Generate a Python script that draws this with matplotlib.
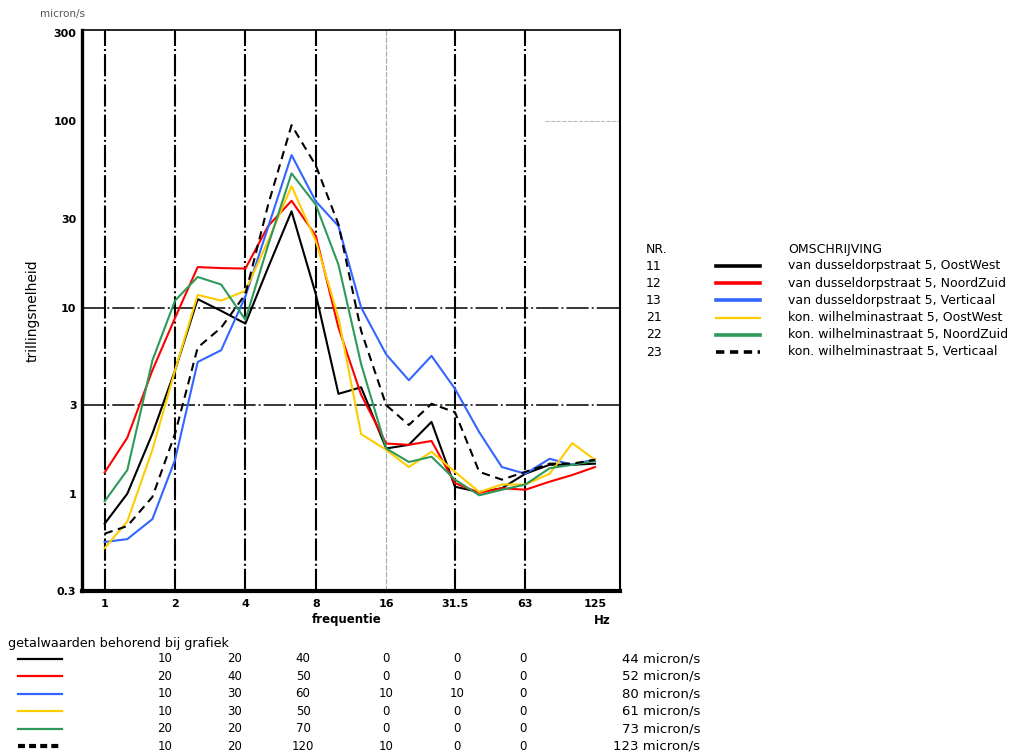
import matplotlib
matplotlib.use("Agg")
import matplotlib.pyplot as plt
from matplotlib.lines import Line2D

plt.rcParams['font.family'] = ['DejaVu Sans']
plt.rcParams['lines.scale_dashes'] = False

# 1/3 octave band centres (Hz)
freq = [1, 1.25, 1.6, 2, 2.5, 3.15, 4, 5, 6.3, 8, 10, 12.5, 16, 20, 25,
        31.5, 40, 50, 63, 80, 100, 125]

# trillingsnelheid in micron/s
v11 = [0.69, 1.0, 2.1, 4.6, 11.1, 9.6, 8.2, 16.4, 32.9, 11.8, 3.44, 3.73,
       1.75, 1.83, 2.43, 1.09, 1.02, 1.07, 1.28, 1.43, 1.43, 1.45]
v12 = [1.30, 2.0, 4.6, 8.8, 16.5, 16.3, 16.2, 27.4, 37.5, 24.3, 7.8, 3.4,
       1.86, 1.83, 1.92, 1.14, 1.01, 1.07, 1.05, 1.16, 1.26, 1.39]
v13 = [0.55, 0.57, 0.73, 1.52, 5.1, 5.9, 11.5, 27.0, 66.0, 37.2, 27.4, 10.0,
       5.6, 4.07, 5.5, 3.66, 2.14, 1.39, 1.28, 1.54, 1.43, 1.53]
v21 = [0.51, 0.71, 1.72, 4.6, 11.7, 10.9, 12.3, 22.8, 44.9, 22.8, 8.8, 2.09,
       1.72, 1.39, 1.68, 1.31, 1.02, 1.12, 1.12, 1.28, 1.87, 1.52]
v22 = [0.91, 1.34, 5.2, 10.9, 14.6, 13.3, 8.6, 21.6, 52.6, 35.7, 17.0, 4.97,
       1.75, 1.48, 1.58, 1.19, 0.98, 1.05, 1.12, 1.37, 1.43, 1.50]
v23 = [0.61, 0.67, 0.96, 2.1, 6.1, 7.8, 11.8, 35.6, 95.5, 58.0, 28.0, 7.5,
       2.99, 2.34, 3.04, 2.74, 1.31, 1.19, 1.31, 1.45, 1.45, 1.52]

nrs = ['11', '12', '13', '21', '22', '23']
names = ['van dusseldorpstraat 5, OostWest',
         'van dusseldorpstraat 5, NoordZuid',
         'van dusseldorpstraat 5, Verticaal',
         'kon. wilhelminastraat 5, OostWest',
         'kon. wilhelminastraat 5, NoordZuid',
         'kon. wilhelminastraat 5, Verticaal']
colors = ['black', '#ff0000', '#3366ff', '#ffcc00', '#2e9a5a', 'black']
styles = ['-', '-', '-', '-', '-', (0, (6, 4))]

xticks = [1, 2, 4, 8, 16, 31.5, 63, 125]
xticklabels = ['1', '2', '4', '8', '16', '31.5', '63', '125']
yticks = [0.3, 1, 3, 10, 30, 100, 300]
yticklabels = ['0.3', '1', '3', '10', '30', '100', '300']

# getalwaarden behorend bij grafiek
table = [['10', '20', '40', '0', '0', '0', '44 micron/s'],
         ['20', '40', '50', '0', '0', '0', '52 micron/s'],
         ['10', '30', '60', '10', '10', '0', '80 micron/s'],
         ['10', '30', '50', '0', '0', '0', '61 micron/s'],
         ['20', '20', '70', '0', '0', '0', '73 micron/s'],
         ['10', '20', '120', '10', '0', '0', '123 micron/s']]

W, H = 1022, 753
fig = plt.figure(figsize=(W / 100, H / 100), dpi=100)


def fx(px):
    return px / W


def fy(py):
    return 1 - py / H


ax = fig.add_axes([fx(82), fy(591), fx(620) - fx(82), fy(30) - fy(591)])
ax.set_xscale('log')
ax.set_yscale('log')
ax.set_xlim(0.8, 160)
ax.set_ylim(0.3, 310)

dashdot = (0, (16, 2.2, 1.4, 2.2))
for x in [1, 2, 4, 8, 31.5, 63]:
    ax.axvline(x, color='black', lw=1.5, ls=dashdot, zorder=1)
ax.axvline(16, color='#aaaaaa', lw=0.8, ls=(0, (4, 1)), zorder=1)
for y in [3, 10]:
    ax.axhline(y, color='black', lw=1.1, ls=dashdot, zorder=1)
ax.axhline(100, xmin=0.86, xmax=1.0, color='#bbbbbb', lw=0.8, ls=(0, (3, 1)))

series = [v11, v12, v13, v21, v22, v23]
for vals, c, s in zip(series, colors, styles):
    ax.plot(freq, vals, color=c, ls=s, lw=1.5, zorder=3)

ax.set_xticks(xticks)
ax.set_xticklabels(xticklabels, fontsize=8, fontweight='bold')
ax.set_yticks(yticks)
ax.set_yticklabels(yticklabels, fontsize=8, fontweight='bold')
ax.minorticks_off()
ax.tick_params(length=0, pad=6)
ax.tick_params(axis='y', pad=4)

ax.spines['left'].set_linewidth(2.4)
ax.spines['bottom'].set_linewidth(3.0)
ax.spines['right'].set_linewidth(1.5)
ax.spines['top'].set_linewidth(1.2)

fig.text(fx(40), fy(14), 'micron/s', fontsize=7.5, color='#555555', va='center')
fig.text(fx(33), fy(311), 'trillingsnelheid', fontsize=10, rotation=90,
         ha='center', va='center')
fig.text(fx(347), fy(620), 'frequentie', fontsize=8.5, fontweight='bold',
         ha='center', va='center')
fig.text(fx(602), fy(620), 'Hz', fontsize=8.5, fontweight='bold',
         ha='center', va='center')

# legend on the right
fig.text(fx(646), fy(250), 'NR.', fontsize=9, va='center')
fig.text(fx(788), fy(250), 'OMSCHRIJVING', fontsize=9, va='center')
for i in range(6):
    yy = 266 + i * 17.2
    fig.text(fx(646), fy(yy), nrs[i], fontsize=9, va='center')
    fig.add_artist(Line2D([fx(716), fx(760)], [fy(yy), fy(yy)],
                          color=colors[i], ls=styles[i], lw=2.6 if i != 3 else 1.6))
    fig.text(fx(788), fy(yy), names[i], fontsize=9, va='center')

# table under the chart
fig.text(fx(8), fy(644), 'getalwaarden behorend bij grafiek', fontsize=9.2,
         va='center')
col_x = [165, 235, 303, 386, 457, 523]
for i, row in enumerate(table):
    yy = 659 + i * 17.4
    fig.add_artist(Line2D([fx(18), fx(62)], [fy(yy), fy(yy)],
                          color=colors[i], ls=styles[i] if i != 5 else (0, (5, 3)),
                          lw=1.6 if i != 5 else 3.0))
    for cx, val in zip(col_x, row[:6]):
        fig.text(fx(cx), fy(yy), val, fontsize=8.5, ha='center', va='center')
    fig.text(fx(700), fy(yy), row[6], fontsize=9.5, ha='right', va='center')

fig.savefig('out.png', dpi=100)
